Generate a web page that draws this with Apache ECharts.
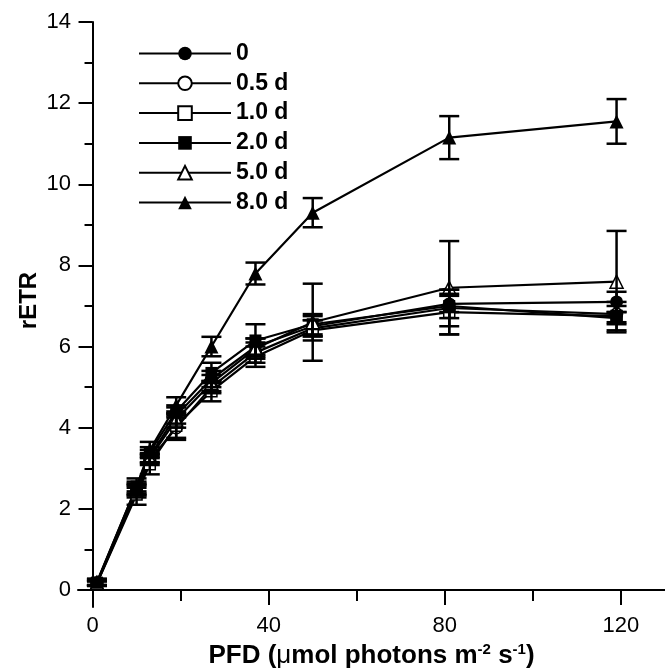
<!DOCTYPE html>
<html>
<head>
<meta charset="utf-8">
<script src="https://cdn.jsdelivr.net/npm/echarts@6/dist/echarts.min.js"></script>
<style>
html,body{margin:0;padding:0;background:#fff;}
#chart{width:665px;height:672px;}
</style>
</head>
<body>
<div id="chart"></div>
<script>
// PFD values (x)
const pfd = [1, 10, 13, 19, 27, 37, 50, 81, 119];

// rETR means per treatment
const s0   = [0.18, 2.50, 3.30, 4.30, 5.20, 6.00, 6.50, 7.05, 7.10];
const s05  = [0.17, 2.40, 3.20, 4.00, 5.00, 5.85, 6.45, 6.95, 6.80];
const s10  = [0.16, 2.35, 3.10, 4.05, 4.90, 5.75, 6.40, 6.85, 6.75];
const s20  = [0.18, 2.55, 3.40, 4.40, 5.35, 6.15, 6.55, 7.00, 6.70];
const s50  = [0.17, 2.45, 3.25, 4.20, 5.10, 5.95, 6.60, 7.45, 7.60];
const s80  = [0.20, 2.55, 3.45, 4.55, 6.00, 7.80, 9.30, 11.15, 11.55];

// standard errors
const e0   = [0.08, 0.12, 0.15, 0.20, 0.20, 0.20, 0.25, 0.20, 0.25];
const e05  = [0.05, 0.12, 0.12, 0.30, 0.15, 0.25, 0.20, 0.45, 0.20];
const e10  = [0.05, 0.25, 0.25, 0.30, 0.25, 0.25, 0.25, 0.55, 0.35];
const e20  = [0.08, 0.12, 0.12, 0.15, 0.25, 0.40, 0.25, 0.30, 0.15];
const e50  = [0.05, 0.12, 0.12, 0.20, 0.20, 0.25, 0.95, 1.15, 1.25];
const e80  = [0.08, 0.20, 0.20, 0.20, 0.24, 0.27, 0.36, 0.53, 0.55];

const names = ['0', '0.5 d', '1.0 d', '2.0 d', '5.0 d', '8.0 d'];
const xMajorTicks = [0, 40, 80, 120];
const xMinorTicks = [20, 60, 100];
const yMajorTicks = [0, 2, 4, 6, 8, 10, 12, 14];
const yMinorTicks = [1, 3, 5, 7, 9, 11, 13];

const FONT = '"Liberation Sans", Arial, sans-serif';

const groups = [
  {name: names[0], y: s0,  e: e0,  symbol: 'circle',   size: 13, open: false},
  {name: names[1], y: s05, e: e05, symbol: 'circle',   size: 12, open: true},
  {name: names[2], y: s10, e: e10, symbol: 'rect',     size: 11, open: true},
  {name: names[3], y: s20, e: e20, symbol: 'rect',     size: 12, open: false},
  {name: names[4], y: s50, e: e50, symbol: 'triangle', size: 13, open: true},
  {name: names[5], y: s80, e: e80, symbol: 'triangle', size: 14, open: false}
];

const series = [];
groups.forEach(g => {
  series.push({
    type: 'line',
    name: g.name,
    xAxisIndex: 0, yAxisIndex: 0,
    data: pfd.map((x, i) => [x, g.y[i]]),
    symbol: g.symbol,
    symbolSize: g.size,
    lineStyle: {color: '#000', width: 2.2},
    itemStyle: g.open ? {color: '#fff', borderColor: '#000', borderWidth: 1.5}
                      : {color: '#000', borderColor: '#000', borderWidth: 0},
    emphasis: {disabled: true},
    animation: false,
    z: 3
  });
});
groups.forEach(g => {
  series.push({
    type: 'custom',
    name: 'err ' + g.name,
    xAxisIndex: 0, yAxisIndex: 0,
    data: pfd.map((x, i) => [x, g.y[i] - g.e[i], g.y[i] + g.e[i]]),
    encode: {x: 0, y: [1, 2]},
    z: 4,
    animation: false,
    renderItem: function (params, api) {
      const x = api.value(0);
      const p1 = api.coord([x, api.value(2)]);
      const p2 = api.coord([x, api.value(1)]);
      const w = 10;
      const st = {stroke: '#000', lineWidth: 2.5};
      return {
        type: 'group',
        children: [
          {type: 'line', shape: {x1: p1[0], y1: p1[1], x2: p2[0], y2: p2[1]}, style: st},
          {type: 'line', shape: {x1: p1[0] - w, y1: p1[1], x2: p1[0] + w, y2: p1[1]}, style: st},
          {type: 'line', shape: {x1: p2[0] - w, y1: p2[1], x2: p2[0] + w, y2: p2[1]}, style: st}
        ]
      };
    }
  });
});

const chart = echarts.init(document.getElementById('chart'), null, {renderer: 'canvas'});
chart.setOption({
  backgroundColor: '#fff',
  animation: false,
  textStyle: {fontFamily: FONT},
  grid: {left: 78, right: 0, top: 22, bottom: 65, containLabel: false, outerBoundsMode: 'none'},
  legend: {
    data: names,
    orient: 'vertical',
    left: 138,
    top: 42,
    padding: 0,
    itemWidth: 92,
    itemHeight: 17,
    itemGap: 6.8,
    selectedMode: false,
    textStyle: {fontFamily: FONT, fontSize: 23, fontWeight: 'bold', color: '#000', lineHeight: 21}
  },
  xAxis: [
    {
      type: 'value', min: -3.3, max: 130, position: 'bottom',
      axisLine: {show: true, onZero: true, lineStyle: {color: '#000', width: 2}},
      axisTick: {show: true, inside: false, length: 15, customValues: xMajorTicks, lineStyle: {color: '#000', width: 2}},
      axisLabel: {show: true, customValues: xMajorTicks, margin: 8, fontSize: 22, color: '#000', fontFamily: FONT},
      splitLine: {show: false},
      name: '{b|PFD (}{mu|μ}{b|mol photons m}{sup|-2}{b| s}{sup|-1}{b|)}',
      nameLocation: 'middle',
      nameGap: 35,
      nameTextStyle: {
        rich: {
          b: {fontFamily: FONT, fontSize: 26, fontWeight: 'bold', color: '#000'},
          mu: {fontFamily: FONT, fontSize: 26, fontWeight: 'normal', color: '#000'},
          sup: {fontFamily: FONT, fontSize: 15, fontWeight: 'bold', color: '#000', padding: [0, 0, 13, 0]}
        }
      }
    },
    {
      type: 'value', min: -3.3, max: 130, position: 'bottom',
      axisLine: {show: false, onZero: true},
      axisTick: {show: true, inside: false, length: 11, customValues: xMinorTicks, lineStyle: {color: '#000', width: 2}},
      axisLabel: {show: false},
      splitLine: {show: false}
    }
  ],
  yAxis: [
    {
      type: 'value', min: -0.42, max: 14, position: 'left',
      axisLine: {show: true, onZero: true, lineStyle: {color: '#000', width: 2}},
      axisTick: {show: true, inside: false, length: 14, customValues: yMajorTicks, lineStyle: {color: '#000', width: 2}},
      axisLabel: {show: true, customValues: yMajorTicks, margin: 7, fontSize: 22, color: '#000', fontFamily: FONT},
      splitLine: {show: false},
      name: 'rETR',
      nameLocation: 'middle',
      nameGap: 37,
      nameMoveOverlap: false,
      nameRotate: 90,
      nameTextStyle: {fontFamily: FONT, fontSize: 24, fontWeight: 'bold', color: '#000', padding: [0, 0, 0, 28]}
    },
    {
      type: 'value', min: -0.42, max: 14, position: 'left',
      axisLine: {show: false, onZero: true},
      axisTick: {show: true, inside: false, length: 8, customValues: yMinorTicks, lineStyle: {color: '#000', width: 2}},
      axisLabel: {show: false},
      splitLine: {show: false}
    }
  ],
  series: series
});
</script>
</body>
</html>
